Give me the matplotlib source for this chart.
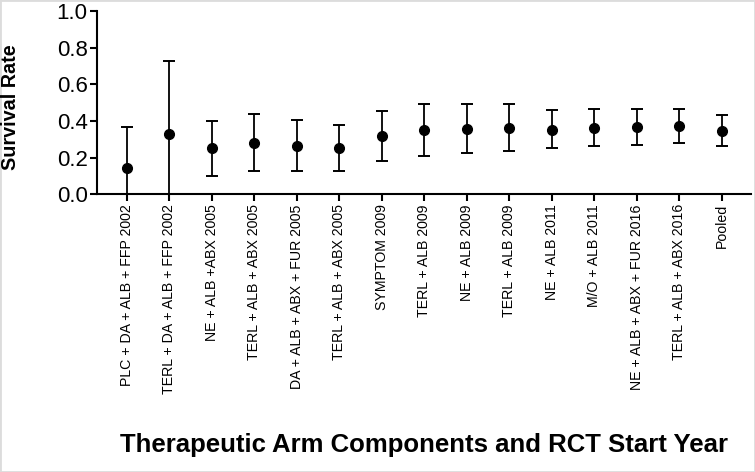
import matplotlib
matplotlib.use("Agg")
import matplotlib.pyplot as plt
import numpy as np

plt.rcParams['font.family'] = ['Liberation Sans', 'DejaVu Sans']

categories = [
    "PLC + DA + ALB + FFP 2002",
    "TERL + DA + ALB + FFP 2002",
    "NE + ALB +ABX 2005",
    "TERL + ALB + ABX 2005",
    "DA + ALB + ABX + FUR 2005",
    "TERL + ALB + ABX 2005",
    "SYMPTOM 2009",
    "TERL + ALB 2009",
    "NE + ALB 2009",
    "TERL + ALB 2009",
    "NE + ALB 2011",
    "M/O + ALB 2011",
    "NE + ALB + ABX + FUR 2016",
    "TERL + ALB + ABX 2016",
    "Pooled",
]
survival = [0.145, 0.328, 0.251, 0.282, 0.264, 0.253, 0.320, 0.350, 0.358, 0.362, 0.353, 0.362, 0.368, 0.372, 0.346]
lower = [0.0, 0.0, 0.102, 0.129, 0.129, 0.129, 0.182, 0.209, 0.224, 0.237, 0.253, 0.262, 0.269, 0.279, 0.264]
upper = [0.368, 0.728, 0.400, 0.439, 0.406, 0.379, 0.455, 0.492, 0.495, 0.490, 0.461, 0.464, 0.468, 0.468, 0.435]

fig = plt.figure(figsize=(7.55, 4.72), dpi=100)
ax = fig.add_axes([0.129, 0.588, 0.866, 0.389])

x = np.arange(len(categories))
y = np.array(survival)
yerr = np.vstack([y - np.array(lower), np.array(upper) - y])
ax.errorbar(x, y, yerr=yerr, fmt='o', color='black', markersize=7,
            elinewidth=1.3, capsize=4, capthick=1.4, clip_on=True)

ax.set_xlim(-0.69, len(categories) - 1 + 0.69)
ax.set_ylim(0, 1.0)
ax.set_yticks([0.0, 0.2, 0.4, 0.6, 0.8, 1.0])
ax.set_yticklabels(["0.0", "0.2", "0.4", "0.6", "0.8", "1.0"], fontsize=16)
ax.set_xticks(x)
ax.set_xticklabels(categories, rotation=90, fontsize=10.2)
for s in ['top', 'right']:
    ax.spines[s].set_visible(False)
for s in ['left', 'bottom']:
    ax.spines[s].set_linewidth(1.5)
ax.tick_params(axis='both', width=1.5, length=5, direction='out', pad=2)

fig.text(11 / 755, 1 - 107 / 472, "Survival Rate", rotation=90,
         ha='center', va='center', fontsize=14.2, fontweight='bold')
fig.text(0.561, 1 - 445 / 472, "Therapeutic Arm Components and RCT Start Year",
         ha='center', va='center', fontsize=18.5, fontweight='bold')

fig.patches.append(plt.Rectangle((0, 0), 1, 1, transform=fig.transFigure,
                                 fill=False, edgecolor='#dcdcdc', linewidth=2))
fig.savefig("out.png", dpi=100, facecolor='white')
